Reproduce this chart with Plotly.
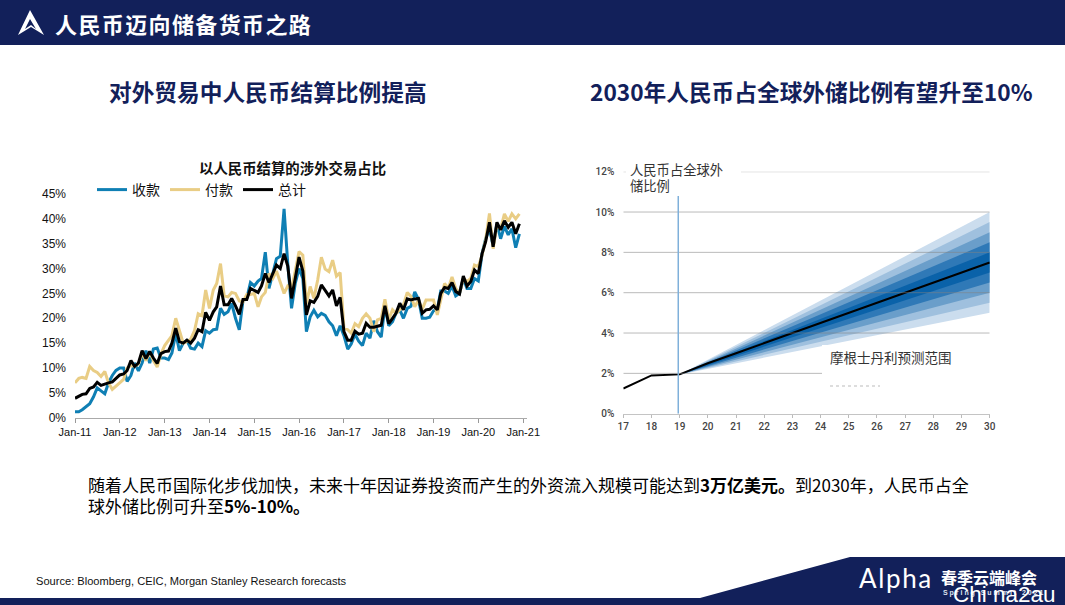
import plotly.graph_objects as go

W, H = 1065, 605

months = [f"{2011 + i // 12}-{i % 12 + 1:02d}-01" for i in range(120)]

receipts = [1.2,1.2,1.6,2.2,2.8,4.2,6,5.4,4.8,7,8.5,9.5,
            10,10,7.3,8.5,11,9.4,11,13.5,11,13.8,14,12,
            12,11.7,13,17,13.5,15,15.5,14,13.8,15,14.3,17.5,
            17,17.7,17.8,22,20.8,21.3,23,20,17.7,23.5,24,27.2,
            26.5,27.5,28,33.3,26,29,32,32.5,42,31,22,27,
            30,28,17.3,20.3,21.6,20.3,21,20.6,19.3,18.5,
            16.5,18.5,16.5,13.8,14.8,16.8,15.4,14.5,17,16,
            19.5,17.3,16.2,22.5,18.5,19.3,21,21.7,20,22,
            22.4,25.3,23.8,20,20,20.2,21.5,21.7,25.5,25.5,
            25,26.5,24.5,25,28,26,26,28,27.5,33,
            36,38,34.5,39,36,38.5,36.8,38,34.2,37]
payments = [7,7.9,8.1,7.9,10.3,9.5,9.1,8.3,9.3,7,5.7,6.3,
            7,7.7,10,10.5,10.3,10.8,13,11.5,13.2,11.5,10.2,12.8,
            14.5,15.5,16.5,20,17.5,15,15.3,15.8,17.5,20.9,20.5,25.7,
            22,25.7,27,31,24.5,24.3,25.2,25,23.5,23.3,24.8,24.8,
            25,22.3,24.3,25.2,29,28,29.5,27,25,26.5,26,29.5,
            33.4,32.7,23,26.4,24,27.7,32.3,29.9,29.4,31.7,
            28.5,29.2,18,17.7,17,18.9,18.3,20,20.9,20,
            17.3,19.7,20,23.8,19.7,21.7,21,21.7,22.7,25.2,
            24.4,22.3,23.7,21.8,23.7,23.7,23.7,20.7,23.7,27,
            26,28.3,26,25,28,27.4,28,30.7,30.4,32.7,
            35.8,41.1,34,38.8,38,41,39.5,41,40,41]
total = [3.9,4.4,4.7,4.8,5.9,6.2,7.1,6.5,6.8,7,7.2,7.9,
         8.6,8.8,9.5,11.5,10.3,11,13.5,11.9,13.3,12,10.9,12.9,
         13.3,13.4,15,18,15.3,15,15.6,15,16,17.7,17.3,21.2,
         19.6,21.3,22.3,26.5,22.7,22.7,24,22.5,20.8,23.8,23.8,26,
         25.6,25.2,26.5,29,27.2,29,30.7,30,33,30.5,24,28,
         32.3,29.5,20.7,23.5,23.2,24.4,26.7,25.6,24.5,25.7,
         22.5,24.2,17.3,15.6,15.6,17.4,16.8,17,19,18.2,
         18.2,18.4,18.6,22.5,18.9,20,21,23,21.7,23.9,
         23.7,23.9,24,21,21.7,21.8,22.5,21.7,25,26.2,
         26,27.2,25.4,24.9,28.5,26.5,27.4,29.7,29,33,
         35.4,39.3,34.4,39.3,37.8,39.6,38.3,39.3,37,39]

years = [17,18,19,20,21,22,23,24,25,26,27,28,29,30]
share = [1.25,1.9,1.95,2.5,3,3.5,4,4.5,5,5.5,6,6.5,7,7.5]
fan_x = [19, 30]
fan_upper = [[1.95,10],[1.95,9.5],[1.95,9],[1.95,8.5],[1.95,8]]
fan_lower = [[1.95,5],[1.95,5.5],[1.95,6],[1.95,6.5],[1.95,7]]
fan_colors = ["#cbddee","#9fc0de","#6a9eca","#2f79b7","#0a62a9"]
y_ticks_right = [0,2,4,6,8,10,12]
y_labels_right = ["0%","2%","4%","6%","8%","10%","12%"]

NAVY = "#12205a"

def px(x): return x / W
def py(y): return 1 - y / H

fig = go.Figure()

for name, vals, col in [("收款", receipts, "#0f7fb4"), ("付款", payments, "#e9cd85"), ("总计", total, "#000000")]:
    fig.add_trace(go.Scatter(x=months, y=vals, name=name, mode="lines",
                             line=dict(color=col, width=3), xaxis="x", yaxis="y"))

for up, lo, col in zip(fan_upper, fan_lower, fan_colors):
    fig.add_trace(go.Scatter(x=fan_x + fan_x[::-1], y=up + lo[::-1], mode="lines", fill="toself",
                             fillcolor=col, line=dict(width=0), showlegend=False,
                             hoverinfo="skip", xaxis="x2", yaxis="y2"))
fig.add_trace(go.Scatter(x=years, y=share, mode="lines", line=dict(color="#000000", width=2),
                         showlegend=False, xaxis="x2", yaxis="y2"))

shapes = []
# header, footer
shapes.append(dict(type="rect", xref="paper", yref="paper", x0=0, x1=1, y0=py(45), y1=1,
                   fillcolor=NAVY, line_width=0, layer="below"))
shapes.append(dict(type="path", xref="paper", yref="paper",
                   path=f"M {px(0)} {py(598)} L {px(700)} {py(598)} L {px(850)} {py(557)} L {px(1065)} {py(557)} L {px(1065)} {py(605)} L {px(0)} {py(605)} Z",
                   fillcolor=NAVY, line_width=0, layer="below"))
# logo
shapes.append(dict(type="path", xref="paper", yref="paper",
                   path=f"M {px(30)} {py(10)} L {px(44)} {py(35)} L {px(31)} {py(27)} L {px(18)} {py(35)} Z",
                   fillcolor="#ffffff", line_width=0))
shapes.append(dict(type="path", xref="paper", yref="paper",
                   path=f"M {px(30)} {py(19)} L {px(36)} {py(29)} L {px(31)} {py(25)} L {px(25)} {py(29)} Z",
                   fillcolor=NAVY, line_width=0))
# right chart gridlines
for v in y_ticks_right[1:]:
    shapes.append(dict(type="line", xref="x2", yref="y2", x0=17, x1=30, y0=v, y1=v,
                       line=dict(color="rgba(130,130,130,0.55)", width=1)))
# white boxes behind chart annotations
shapes.append(dict(type="rect", xref="paper", yref="paper", x0=px(626), x1=px(741), y0=py(197), y1=py(160),
                   fillcolor="#ffffff", line_width=0))
shapes.append(dict(type="rect", xref="paper", yref="paper", x0=px(822), x1=px(990), y0=py(385), y1=py(345),
                   fillcolor="#ffffff", line_width=0))
shapes.append(dict(type="line", xref="x2", yref="y2", x0=18.95, x1=18.95, y0=0, y1=10.8,
                   line=dict(color="#7fb0da", width=1.5)))
shapes.append(dict(type="line", xref="paper", yref="paper", x0=px(830), x1=px(880), y0=py(386), y1=py(386),
                   line=dict(color="#bbbbbb", width=1, dash="dot")))

def txt(x, y, s, size, color="#000000", anchor="left", family="Noto Sans CJK SC"):
    return dict(x=px(x), y=py(y), xref="paper", yref="paper", text=s, showarrow=False, xanchor=anchor,
                yanchor="middle", align="left", font=dict(size=size, color=color, family=family))

ann = [
    txt(53, 23, "<b>" + "\u200a".join("人民币迈向储备货币之路") + "</b>", 22, "#ffffff"),
    txt(268, 91, "<b>对外贸易中人民币结算比例提高</b>", 22.7, NAVY, "center"),
    txt(811, 91, "<b>2030年人民币占全球外储比例有望升至10%</b>", 22.7, NAVY, "center"),
    txt(292, 167, "<b>以人民币结算的涉外交易占比</b>", 14.4, "#111111", "center"),
    txt(628, 169, "人民币占全球外", 13.3, "#333333"),
    txt(628, 185, "储比例", 13.3, "#333333"),
    txt(828, 357, "摩根士丹利预测范围", 13.5, "#333333"),
    txt(86, 484, "随着人民币国际化步伐加快，未来十年因证券投资而产生的外资流入规模可能达到<b>3万亿美元。</b>到2030年，人民币占全", 17),
    txt(86, 505, "球外储比例可升至<b>5%-10%。</b>", 17),
    txt(34, 581, "Source: Bloomberg, CEIC, Morgan Stanley Research forecasts", 11.1, "#111111", family="Liberation Sans"),
    txt(857, 578, "A\u200al\u200ap\u200ah\u200aa", 26, "#ffffff", family="Lato"),
    txt(939, 577, "<b>春季云端峰会</b>", 16, "#ffffff"),
    txt(941, 593, "<b>S p r i n g   S u m m i t   2 0 2 1</b>", 7, "#dfe3ee", family="Liberation Sans"),
    txt(951, 594, "Chi na2au", 22.5, "#ffffff", family="Liberation Sans"),
]

fig.update_layout(
    width=W, height=H, margin=dict(l=0, r=0, t=0, b=0, autoexpand=False), autosize=False,
    paper_bgcolor="#ffffff", plot_bgcolor="rgba(0,0,0,0)",
    shapes=shapes, annotations=ann,
    legend=dict(orientation="h", x=px(92), y=py(174), xanchor="left", yanchor="top",
                font=dict(size=14, family="Noto Sans CJK SC", color="#111111"),
                bgcolor="rgba(0,0,0,0)", itemwidth=30, tracegroupgap=0),
    xaxis=dict(domain=[px(75), px(527)], range=["2011-01-01", "2021-02-01"], type="date",
               tickformat="%b-%y", dtick="M12", tick0="2011-01-01", ticks="outside", ticklen=4,
               tickcolor="#999999", showline=True, linecolor="#aaaaaa", showgrid=False, zeroline=False,
               tickfont=dict(size=11, family="Liberation Sans", color="#111111"), anchor="y"),
    yaxis=dict(domain=[py(417.7), py(194)], range=[0, 45], dtick=5, ticksuffix="%", showgrid=False,
               zeroline=False, showline=False, ticklabelstandoff=8,
               tickfont=dict(size=12, family="Liberation Sans", color="#111111"), anchor="x"),
    xaxis2=dict(domain=[px(623.3), px(989.7)], range=[17, 30], dtick=1, ticks="outside", ticklen=3,
                tickcolor="#bbbbbb", showline=True, linecolor="#c4c4c4", showgrid=False, zeroline=False,
                tickfont=dict(size=10, family="Roboto", color="#444444", weight=500), anchor="y2"),
    yaxis2=dict(domain=[py(413.7), py(171.7)], range=[0, 12], tickvals=y_ticks_right, ticktext=y_labels_right,
                showgrid=False, zeroline=False, showline=False, ticklabelstandoff=8,
                tickfont=dict(size=10, family="Roboto", color="#444444", weight=500), anchor="x2"),
)

fig.write_html("out.html", config=dict(displayModeBar=False),
               post_script="document.body.style.margin='0';document.documentElement.style.overflow='hidden';")
